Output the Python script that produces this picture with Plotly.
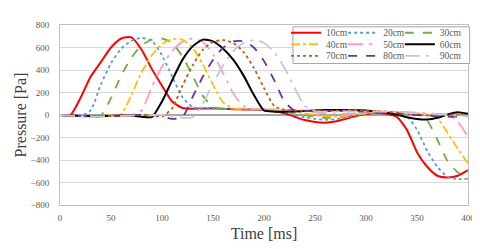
import plotly.graph_objects as go

time_ms = list(range(0, 401, 10))

p10 = [0, -3, 150, 340, 470, 600, 680, 690, 580, 410, 260, 120, 62, 55, 58, 60, 55, 52, 50, 48, 45,
       35, 15, -15, -45, -62, -68, -58, -35, -10, 8, 18, 12, -15, -130, -330, -460, -540, -555, -540, -490]
p20 = [0, -5, -8, 40, 270, 460, 590, 660, 685, 660, 530, 340, 160, 70, 55, 55, 55, 52, 50, 48, 45,
       40, 25, 5, -20, -35, -42, -38, -20, 0, 15, 22, 20, 10, -10, -130, -320, -460, -550, -570, -565]
p30 = [0, -5, -10, -10, -5, 150, 350, 510, 620, 670, 680, 640, 520, 350, 170, 75, 55, 55, 52, 50, 48,
       45, 35, 20, 0, -15, -25, -25, -15, 0, 15, 25, 25, 20, 15, 5, -50, -220, -410, -510, -555]
p40 = [0, -5, -10, -10, -10, -5, 5, 180, 380, 530, 630, 675, 670, 600, 450, 270, 110, 60, 55, 52, 50,
       48, 42, 30, 15, 0, -10, -15, -8, 5, 15, 25, 28, 25, 20, 15, 10, -30, -160, -300, -430]
p50 = [0, -5, -8, -10, -10, -8, -5, 0, 40, 250, 430, 570, 650, 680, 650, 540, 370, 190, 80, 55, 52,
       50, 48, 42, 35, 25, 15, 10, 10, 15, 20, 28, 30, 30, 25, 20, 15, 10, 5, -60, -195]
p60 = [0, -5, -8, -10, -10, -8, -5, -5, -15, -18, 120, 310, 490, 610, 670, 655, 590, 490, 350, 180, 40,
       30, 30, 32, 35, 40, 45, 45, 45, 42, 40, 30, 20, 5, -20, -35, -40, -25, 5, 25, 10]
p70 = [0, -5, -8, -10, -10, -8, -5, -3, 0, -5, -15, 60, 260, 440, 580, 650, 665, 640, 560, 420, 240,
       80, 45, 40, 38, 35, 35, 38, 40, 40, 38, 35, 30, 20, 10, 0, -5, -5, 0, 5, 5]
p80 = [0, -5, -10, -12, -10, -8, -5, -3, 0, 0, -10, -35, -20, 160, 340, 490, 600, 655, 655, 600, 480,
       310, 120, 40, 35, 35, 35, 35, 35, 30, 30, 25, 20, 15, 5, 0, -5, -10, -15, -15, -10]
p90 = [0, -5, -10, -12, -12, -10, -8, -5, 0, 0, 0, -10, -25, -20, 100, 280, 440, 570, 640, 665, 640,
       560, 420, 240, 80, 35, 30, 30, 32, 32, 30, 30, 28, 25, 20, 15, 10, 5, 0, -5, -10]

names = ["10cm", "20cm", "30cm", "40cm", "50cm", "60cm", "70cm", "80cm", "90cm"]
series = [p10, p20, p30, p40, p50, p60, p70, p80, p90]
colors = ["#FF0000", "#5B9BD5", "#70AD47", "#FFC000", "#FF99CC", "#000000", "#C55A11", "#7030A0", "#C8C8C8"]
dashes = ["solid", "dot", "dash", "dashdot", "longdashdot", "solid", "dot", "dash", "longdashdot"]
widths = [2, 1.8, 1.8, 1.8, 1.8, 2, 1.8, 1.8, 1.8]

y_ticks = list(range(-800, 801, 200))
x_ticks = list(range(0, 401, 50))

serif = "Liberation Serif, Times New Roman, serif"
col_x = [0.554, 0.694, 0.833]
row_y = [0.957, 0.893, 0.829]

fig = go.Figure()
legends = {}
for i, (n, s, c, d, w) in enumerate(zip(names, series, colors, dashes, widths)):
    key = "legend" if i == 0 else f"legend{i + 1}"
    fig.add_trace(go.Scatter(x=time_ms, y=s, name=n, mode="lines", legend=key,
                             line=dict(color=c, dash=d, width=w, shape="spline", smoothing=0.6)))
    legends[key] = dict(orientation="h", xanchor="left", yanchor="middle",
                        x=col_x[i % 3], y=row_y[i // 3],
                        bgcolor="rgba(0,0,0,0)", borderwidth=0,
                        font=dict(family=serif, size=9.5, color="#595959"), itemwidth=30)

fig.update_layout(
    width=472, height=241,
    margin=dict(l=52, r=12, t=10, b=44),
    paper_bgcolor="white", plot_bgcolor="white",
    font=dict(family=serif, color="#595959"),
    showlegend=True,
    shapes=[dict(type="rect", xref="paper", yref="paper", x0=0.571, x1=1.004, y0=0.786, y1=0.99,
                 fillcolor="white", line=dict(color="#A6A6A6", width=1), layer="above")],
    **legends,
)
fig.update_xaxes(range=[0, 400], tickvals=x_ticks, ticks="", showgrid=False, automargin=False,
                 showline=True, linecolor="#BFBFBF", linewidth=1, mirror=True,
                 zeroline=False, ticklabelstandoff=4,
                 tickfont=dict(family=serif, size=9, color="#595959"),
                 title=dict(text="Time [ms]", font=dict(family=serif, size=16, color="#404040"), standoff=6))
fig.update_yaxes(range=[-800, 800], tickvals=y_ticks, ticks="", showgrid=True, gridcolor="#D9D9D9",
                 gridwidth=1, showline=True, linecolor="#BFBFBF", linewidth=1, mirror=True, automargin=False,
                 zeroline=True, zerolinecolor="#A6A6A6", zerolinewidth=2, ticklabelstandoff=8,
                 tickfont=dict(family=serif, size=9, color="#595959"),
                 title=dict(text="Pressure [Pa]", font=dict(family=serif, size=16, color="#404040"), standoff=0))

fig.write_html("out.html")
